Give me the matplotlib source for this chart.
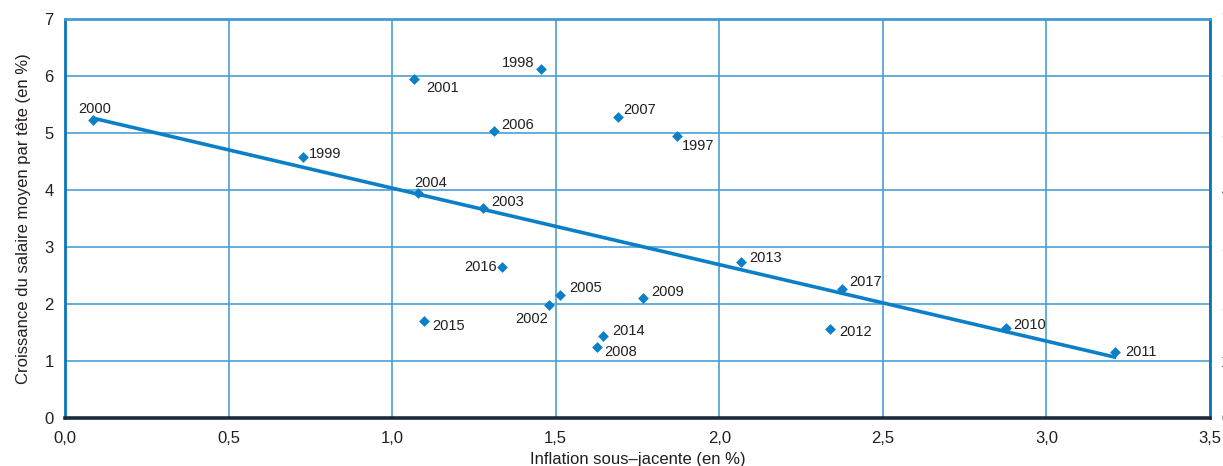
import matplotlib
matplotlib.use('Agg')
import matplotlib.pyplot as plt

plt.rcParams['font.family'] = ['Liberation Sans', 'DejaVu Sans']

# inflation sous-jacente (x) et croissance du salaire moyen par tête (y), en %
years = ['1997', '1998', '1999', '2000', '2001', '2002', '2003', '2004', '2005',
         '2006', '2007', '2008', '2009', '2010', '2011', '2012', '2013', '2014',
         '2015', '2016', '2017']
inflation = [1.87, 1.455, 0.727, 0.087, 1.067, 1.481, 1.278, 1.08, 1.513,
             1.31, 1.69, 1.625, 1.768, 2.875, 3.211, 2.337, 2.066, 1.646,
             1.096, 1.337, 2.376]
salaire = [4.94, 6.13, 4.58, 5.23, 5.95, 1.99, 3.68, 3.95, 2.16,
           5.04, 5.29, 1.25, 2.11, 1.585, 1.15, 1.57, 2.74, 1.44,
           1.70, 2.65, 2.26]

# droite de tendance (extrémités)
trend_x = [0.087, 3.208]
trend_y = [5.26, 1.07]

# position des étiquettes autour des points (pixels) : dx, dy, alignement
label_pos = {
    '1997': (5, -10, 'left'), '1998': (-7, 6, 'right'), '1999': (6, 3, 'left'),
    '2000': (1, 11, 'center'), '2001': (12, -9, 'left'), '2002': (-1, -14, 'right'),
    '2003': (8, 6, 'left'), '2004': (-4, 10, 'left'), '2005': (9, 7, 'left'),
    '2006': (8, 6, 'left'), '2007': (5, 7, 'left'), '2008': (8, -5, 'left'),
    '2009': (8, 6, 'left'), '2010': (8, 3, 'left'), '2011': (10, 0, 'left'),
    '2012': (10, -3, 'left'), '2013': (8, 4, 'left'), '2014': (9, 5, 'left'),
    '2015': (9, -5, 'left'), '2016': (-5, 0, 'right'), '2017': (7, 7, 'left'),
}

blue = '#0b7fc7'
text_col = '#231f20'

fig = plt.figure(figsize=(12.23, 4.66), dpi=100)
ax = fig.add_axes([0.0531, 0.103, 0.9363, 0.856])

ax.plot(trend_x, trend_y, color=blue, lw=2.6, zorder=3)
ax.scatter(inflation, salaire, marker='D', s=30, color=blue, zorder=4, linewidths=0)

for yr, xv, yv in zip(years, inflation, salaire):
    dx, dy, ha = label_pos[yr]
    ax.annotate(yr, (xv, yv), xytext=(dx, dy), textcoords='offset pixels',
                ha=ha, va='center', fontsize=10.5, color=text_col, zorder=5)

ax.set_xlim(0, 3.5)
ax.set_ylim(0, 7)
ax.set_xticks([0, 0.5, 1.0, 1.5, 2.0, 2.5, 3.0, 3.5])
ax.set_xticklabels(['0,0', '0,5', '1,0', '1,5', '2,0', '2,5', '3,0', '3,5'])
ax.set_yticks(range(8))
ax.grid(True, color='#4aa0d8', lw=1.2, zorder=0)
ax.set_axisbelow(True)

# graduations à droite : coupées par le bord comme sur l'original
ax.tick_params(axis='x', length=0, pad=9, labelsize=12, colors=text_col)
ax.tick_params(axis='y', length=0, pad=8, labelsize=12, colors=text_col,
               labelright=True)

ax.spines['bottom'].set_color('#1c2b3a')
ax.spines['bottom'].set_linewidth(2.6)
ax.spines['left'].set_color('#0a74bc')
ax.spines['left'].set_linewidth(2)
ax.spines['right'].set_color('#0a74bc')
ax.spines['right'].set_linewidth(2)
ax.spines['top'].set_color('#3f9ad6')
ax.spines['top'].set_linewidth(2)

ax.set_xlabel('Inflation sous\u2013jacente (en %)', fontsize=12, color=text_col, labelpad=5)
ax.set_ylabel('Croissance du salaire moyen par tête (en %)', fontsize=12,
              color=text_col, labelpad=10)

fig.savefig('out.png', dpi=100)
